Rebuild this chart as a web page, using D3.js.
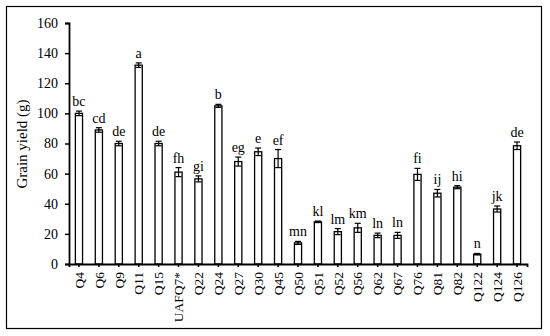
<!DOCTYPE html>
<html>
<head>
<meta charset="utf-8">
<script src="https://cdn.jsdelivr.net/npm/d3@7"></script>
<style>
  body { margin: 0; background: #fff; }
  svg text { font-family: "Liberation Serif", "DejaVu Serif", serif; fill: #000; }
</style>
</head>
<body>
<svg id="chart" width="550" height="336"></svg>
<script>
// chart data
const lines = ["Q4", "Q6", "Q9", "Q11", "Q15", "UAFQ7*", "Q22", "Q24", "Q27", "Q30", "Q45",
    "Q50", "Q51", "Q52", "Q56", "Q62", "Q67", "Q76", "Q81", "Q82", "Q122", "Q124", "Q126"];
const yieldMean = [100, 89, 80, 132, 80, 61, 56.5, 105, 68, 74.5, 70,
    14, 28, 21.5, 24, 19, 19, 59.5, 47, 51, 6.5, 36.5, 78.5];
const yieldErr = [1.5, 1.5, 1.5, 1.5, 1.5, 3, 2, 1, 3, 2.5, 6,
    1, 0.5, 2, 3, 1.5, 2, 4, 2.5, 1, 0.5, 2, 2.5];
const groups = ["bc", "cd", "de", "a", "de", "fh", "gi", "b", "eg", "e", "ef",
    "mn", "kl", "lm", "km", "ln", "ln", "fi", "ij", "hi", "n", "jk", "de"];
const yTicks = [0, 20, 40, 60, 80, 100, 120, 140, 160];

const data = lines.map(function (d, i) {
    return { name: d, value: yieldMean[i], err: yieldErr[i], grp: groups[i] };
});

const svg = d3.select("#chart");

// frame round the whole figure
svg.append("rect")
    .attr("x", 6.5).attr("y", 6.5)
    .attr("width", 535).attr("height", 322)
    .attr("fill", "none")
    .attr("stroke", "#000")
    .attr("stroke-width", 1.2);

const x = d3.scaleBand()
    .domain(lines)
    .range([69, 527])
    .paddingInner(0.64)
    .paddingOuter(0.32);

const y = d3.scaleLinear()
    .domain([0, 160])
    .range([264, 23]);

// y axis
const yAxis = svg.append("g")
    .attr("transform", "translate(69,0)")
    .call(d3.axisLeft(y).tickValues(yTicks).tickSize(4).tickPadding(7));
yAxis.attr("font-family", null);
yAxis.select(".domain").attr("stroke-width", 1.8);
yAxis.selectAll(".tick line").attr("stroke-width", 1.5);
yAxis.selectAll("text")
    .style("font-size", "14px");

// bars
svg.selectAll(".bar")
    .data(data)
    .enter().append("rect")
    .attr("class", "bar")
    .attr("x", function (d) { return x(d.name); })
    .attr("y", function (d) { return y(d.value); })
    .attr("width", x.bandwidth())
    .attr("height", function (d) { return y(0) - y(d.value); })
    .attr("fill", "#fff")
    .attr("stroke", "#000")
    .attr("stroke-width", 1.3);

// error bars
const eb = svg.selectAll(".err")
    .data(data)
    .enter().append("g")
    .attr("class", "err")
    .attr("transform", function (d) { return "translate(" + (x(d.name) + x.bandwidth() / 2) + ",0)"; })
    .attr("stroke", "#000")
    .attr("stroke-width", 1.2);

eb.append("line")
    .attr("x1", 0).attr("x2", 0)
    .attr("y1", function (d) { return y(d.value - d.err); })
    .attr("y2", function (d) { return y(d.value + d.err); });
eb.append("line")
    .attr("x1", -3).attr("x2", 3)
    .attr("y1", function (d) { return y(d.value + d.err); })
    .attr("y2", function (d) { return y(d.value + d.err); });
eb.append("line")
    .attr("x1", -3).attr("x2", 3)
    .attr("y1", function (d) { return y(d.value - d.err); })
    .attr("y2", function (d) { return y(d.value - d.err); });

// significance letters
svg.selectAll(".grp")
    .data(data)
    .enter().append("text")
    .attr("class", "grp")
    .attr("x", function (d) { return x(d.name) + x.bandwidth() / 2; })
    .attr("y", function (d) { return y(d.value + d.err) - 5; })
    .attr("text-anchor", "middle")
    .style("font-size", "14px")
    .text(function (d) { return d.grp; });

// x axis
const xAxis = svg.append("g")
    .attr("transform", "translate(0,264)")
    .call(d3.axisBottom(x).tickSizeInner(3).tickSizeOuter(3).tickPadding(5));
xAxis.attr("font-family", null);
xAxis.select(".domain").attr("stroke-width", 1.8);
xAxis.selectAll(".tick line").attr("stroke-width", 1.5);
xAxis.selectAll("text")
    .style("font-size", "13.5px")
    .attr("text-anchor", "end")
    .attr("dy", "0.35em")
    .attr("transform", "rotate(-90)")
    .attr("x", -8)
    .attr("y", 0);

// y label
svg.append("text")
    .attr("transform", "translate(22,144) rotate(-90)")
    .attr("text-anchor", "middle")
    .attr("dy", "0.35em")
    .style("font-size", "15px")
    .text("Grain yield (g)");
</script>
</body>
</html>
